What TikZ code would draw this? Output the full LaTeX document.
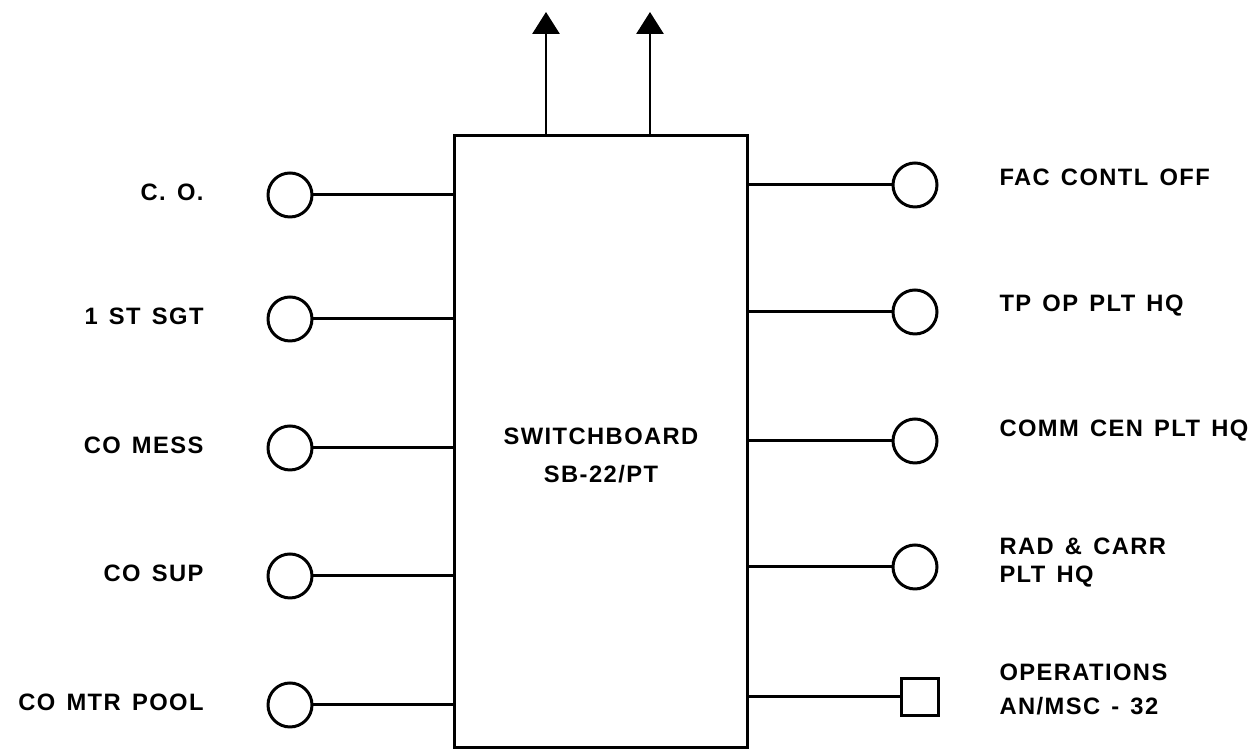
\documentclass[tikz,border=0pt]{standalone}
\usepackage{fontspec}
\setmainfont{Liberation Sans}[LetterSpace=6,WordSpace=1.4,UprightFont=*,BoldFont=* Bold]
\usetikzlibrary{arrows.meta,positioning}

\begin{document}
\begin{tikzpicture}[x=0.02cm,y=0.02cm,line width=1.7pt,
  jack/.style={draw,circle,minimum size=0.88cm,inner sep=0},
  plug/.style={draw,rectangle,minimum size=0.74cm,inner sep=0},
  lbl/.style={inner sep=0,font=\fontsize{13.5}{16}\selectfont\bfseries,align=left}]
  \useasboundingbox (0,0) rectangle (1259,753);
  % switchboard
  \node[draw,minimum width=5.88cm,minimum height=12.26cm,inner sep=0] (sb) at (601,311.5) {};
  \node[lbl,align=center,font=\fontsize{13.5}{21.6}\selectfont\bfseries] (sbname) at (601,298) {SWITCHBOARD\\SB-22/PT};
  % trunks
  \foreach \x/\n in {546/ta,650/tb}{
    \coordinate (\n) at (\x,741);
    \draw[-{Triangle[length=0.44cm,width=0.54cm]}] (sb.north -| \n) -- (\n);
  }
  % left side
  \foreach \y/\n/\t in {558/co/{C. O.},434/sgt/{1 ST SGT},305/mess/{CO MESS},177/sup/{CO SUP},48/pool/{CO MTR POOL}}{
    \node[jack] (\n) at (290,\y) {};
    \draw (\n) -- (\n -| sb.west);
    \node[lbl,anchor=base east] (\n-l) at (205,\y-6) {\t};
  }
  % right side
  \foreach \y/\n/\t/\b in {568/fac/{FAC CONTL OFF}/567,441/tpop/{TP OP PLT HQ}/441,312/comm/{COMM CEN PLT HQ}/316,186/rad/{RAD \& CARR\\PLT HQ}/170}{
    \node[jack] (\n) at (915,\y) {};
    \draw (\n) -- (\n -| sb.east);
    \node[lbl,anchor=base west] (\n-l) at (998,\b) {\t};
  }
  \node[plug] (ops) at (920,56) {};
  \draw (ops) -- (ops -| sb.east);
  \node[lbl,anchor=base west,font=\fontsize{13.5}{19.9}\selectfont\bfseries] (ops-l) at (998,38) {OPERATIONS\\AN/MSC - 32};
\end{tikzpicture}
\end{document}
